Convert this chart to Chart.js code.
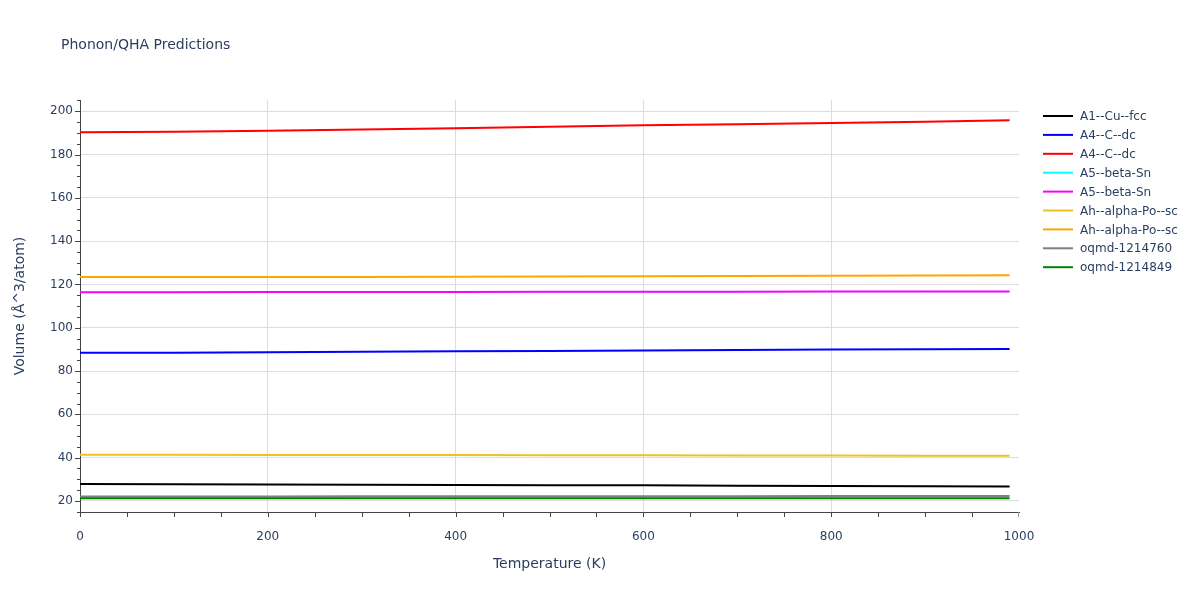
<!DOCTYPE html>
<html>
<head>
<meta charset="utf-8">
<script src="https://cdn.jsdelivr.net/npm/chart.js@4/dist/chart.umd.min.js"></script>
<style>
  html, body { margin: 0; padding: 0; background: #fff; }
  #wrap { width: 1200px; height: 600px; }
</style>
</head>
<body>
<div id="wrap"><canvas id="qha" width="1200" height="600"></canvas></div>
<script>
// temperatures (K)
var temps = [0, 100, 200, 300, 400, 500, 600, 700, 800, 900, 990];

// volumes (A^3/atom)
var cuFcc      = [27.8, 27.7, 27.6, 27.5, 27.4, 27.3, 27.2, 27.0, 26.9, 26.8, 26.7];
var cDcBlue    = [88.4, 88.5, 88.7, 88.9, 89.1, 89.3, 89.5, 89.7, 89.9, 90.1, 90.2];
var cDcRed     = [190.3, 190.5, 191.0, 191.6, 192.2, 192.8, 193.5, 194.0, 194.6, 195.2, 195.8];
var snCyan     = [116.4, 116.4, 116.5, 116.5, 116.5, 116.6, 116.6, 116.6, 116.7, 116.7, 116.7];
var snMagenta  = [116.4, 116.4, 116.5, 116.5, 116.5, 116.6, 116.6, 116.6, 116.7, 116.7, 116.7];
var poGold     = [41.3, 41.3, 41.2, 41.2, 41.2, 41.1, 41.1, 41.0, 41.0, 40.9, 40.9];
var poOrange   = [123.4, 123.4, 123.5, 123.5, 123.6, 123.7, 123.8, 123.9, 124.0, 124.1, 124.2];
var oqmd760    = [22.1, 22.1, 22.1, 22.2, 22.2, 22.2, 22.2, 22.2, 22.3, 22.3, 22.3];
var oqmd849    = [21.3, 21.3, 21.3, 21.3, 21.3, 21.3, 21.3, 21.3, 21.3, 21.3, 21.3];

var labels = ['A1--Cu--fcc', 'A4--C--dc', 'A4--C--dc', 'A5--beta-Sn', 'A5--beta-Sn',
              'Ah--alpha-Po--sc', 'Ah--alpha-Po--sc', 'oqmd-1214760', 'oqmd-1214849'];
var series = [cuFcc, cDcBlue, cDcRed, snCyan, snMagenta, poGold, poOrange, oqmd760, oqmd849];
var colors = ['#000000', '#0000ff', '#ff0000', '#00ffff', '#ff00ff', '#efc21f', '#ffa500', '#808080', '#008000'];

var FONT = '"DejaVu Sans", Verdana, sans-serif';
var TXT = '#2a3f5f';

var datasets = series.map(function(vals, i){
    return {
        label: labels[i],
        data: temps.map(function(t, j){ return {x: t, y: vals[j]}; }),
        borderColor: colors[i],
        backgroundColor: colors[i],
        // cyan sits right under magenta, keep it thin so it doesn't tint the edges
        borderWidth: i === 3 ? 1 : 2,
        pointRadius: 0,
        tension: 0,
        // later traces on top, like plotly
        order: series.length - i
    };
});

// title, legend and axis ticks (major + minor) drawn by hand
var extras = {
    id: 'extras',
    afterDraw: function(chart){
        var ctx = chart.ctx;
        var xs = chart.scales.x, ys = chart.scales.y;
        var area = chart.chartArea;
        ctx.save();

        // ticks
        ctx.strokeStyle = '#444';
        ctx.lineWidth = 1;
        ctx.beginPath();
        for (var v = 15; v <= 205; v += 5) {
            var py = Math.round(ys.getPixelForValue(v)) + 0.5;
            var len = (v % 20 === 0) ? 5 : 3;
            ctx.moveTo(area.left, py);
            ctx.lineTo(area.left - len, py);
        }
        for (var t = 0; t <= 950; t += 50) {
            var px = Math.round(xs.getPixelForValue(t)) + 0.5;
            ctx.moveTo(px, area.bottom);
            ctx.lineTo(px, area.bottom + 5);
        }
        ctx.stroke();
        ctx.strokeStyle = '#999';
        ctx.beginPath();
        var pe = Math.round(xs.getPixelForValue(1000)) - 0.5;
        ctx.moveTo(pe, area.bottom);
        ctx.lineTo(pe, area.bottom + 5);
        ctx.stroke();

        // title
        ctx.fillStyle = TXT;
        ctx.font = '14px ' + FONT;
        ctx.textAlign = 'left';
        ctx.textBaseline = 'middle';
        ctx.fillText('Phonon/QHA Predictions', 61, 45);

        // legend
        ctx.font = '12px ' + FONT;
        chart.data.datasets.forEach(function(ds, i){
            var y = 116 + i * 18.9;
            ctx.strokeStyle = ds.borderColor;
            ctx.lineWidth = 2;
            ctx.beginPath();
            ctx.moveTo(1043, y);
            ctx.lineTo(1073, y);
            ctx.stroke();
            ctx.fillStyle = TXT;
            ctx.fillText(ds.label, 1080, y + 1);
        });
        ctx.restore();
    }
};

new Chart(document.getElementById('qha'), {
    type: 'line',
    data: { datasets: datasets },
    plugins: [extras],
    options: {
        responsive: false,
        animation: false,
        layout: { padding: { top: 100, right: 181, left: 0, bottom: 0 } },
        plugins: {
            legend: { display: false },
            tooltip: { enabled: false }
        },
        scales: {
            x: {
                type: 'linear',
                min: 0,
                max: 1000,
                afterFit: function(s){ s.height = 88; },
                ticks: {
                    stepSize: 200,
                    padding: 18,
                    color: TXT,
                    font: { family: FONT, size: 12 },
                    maxRotation: 0,
                    callback: function(v){ return String(v); }
                },
                grid: {
                    drawTicks: false,
                    color: function(c){
                        var v = c.tick ? c.tick.value : null;
                        return (v === 0 || v === 1000) ? 'rgba(0,0,0,0)' : '#dddddd';
                    }
                },
                border: { display: true, color: '#444', width: 1 },
                title: {
                    display: true,
                    text: 'Temperature (K)',
                    color: TXT,
                    font: { family: FONT, size: 14 },
                    padding: { top: 0, bottom: 27 }
                }
            },
            y: {
                type: 'linear',
                min: 14.9,
                max: 205.2,
                afterFit: function(s){ s.width = 80; },
                afterBuildTicks: function(s){
                    var t = [];
                    for (var v = 20; v <= 200; v += 20) t.push({value: v});
                    s.ticks = t;
                },
                ticks: {
                    padding: 7,
                    color: TXT,
                    font: { family: FONT, size: 12 }
                },
                grid: { drawTicks: false, color: '#dddddd' },
                border: { display: true, color: '#444', width: 1 },
                title: {
                    display: true,
                    text: 'Volume (Å^3/atom)',
                    color: TXT,
                    font: { family: FONT, size: 14 },
                    padding: { top: 12, bottom: 0 }
                }
            }
        }
    }
});
</script>
</body>
</html>
